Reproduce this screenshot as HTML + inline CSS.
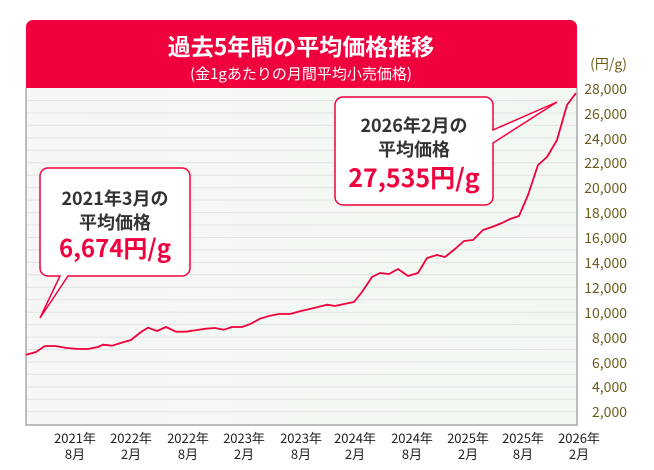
<!DOCTYPE html>
<html><head><meta charset="utf-8"><style>
html,body{margin:0;padding:0;background:#fff;}
svg{display:block;font-family:"Noto Sans CJK JP","Liberation Sans",sans-serif;}
</style></head><body>
<svg width="654" height="470" viewBox="0 0 654 470" xmlns="http://www.w3.org/2000/svg">
<defs><linearGradient id="bg" x1="0" x2="1" y1="0" y2="0"><stop offset="0" stop-color="#f6f7f5"/><stop offset="1" stop-color="#f2f8f1"/></linearGradient></defs>
<rect x="26" y="88" width="551" height="337" fill="url(#bg)"/>
<g stroke="#e2e3e2" stroke-width="1">
<line x1="26" x2="577" y1="100.5" y2="100.5"/><line x1="26" x2="577" y1="113" y2="113"/><line x1="26" x2="577" y1="125.4" y2="125.4"/><line x1="26" x2="577" y1="137.9" y2="137.9"/><line x1="26" x2="577" y1="150.3" y2="150.3"/><line x1="26" x2="577" y1="162.8" y2="162.8"/><line x1="26" x2="577" y1="175.2" y2="175.2"/><line x1="26" x2="577" y1="187.7" y2="187.7"/><line x1="26" x2="577" y1="200.1" y2="200.1"/><line x1="26" x2="577" y1="212.6" y2="212.6"/><line x1="26" x2="577" y1="225" y2="225"/><line x1="26" x2="577" y1="237.5" y2="237.5"/><line x1="26" x2="577" y1="249.9" y2="249.9"/><line x1="26" x2="577" y1="262.4" y2="262.4"/><line x1="26" x2="577" y1="274.8" y2="274.8"/><line x1="26" x2="577" y1="287.3" y2="287.3"/><line x1="26" x2="577" y1="299.7" y2="299.7"/><line x1="26" x2="577" y1="312.2" y2="312.2"/><line x1="26" x2="577" y1="324.6" y2="324.6"/><line x1="26" x2="577" y1="337.1" y2="337.1"/><line x1="26" x2="577" y1="349.5" y2="349.5"/><line x1="26" x2="577" y1="362" y2="362"/><line x1="26" x2="577" y1="374.4" y2="374.4"/><line x1="26" x2="577" y1="386.9" y2="386.9"/><line x1="26" x2="577" y1="399.3" y2="399.3"/><line x1="26" x2="577" y1="411.8" y2="411.8"/>
</g>
<path d="M26,88 V425 H577 V88" fill="none" stroke="#a8a8a8" stroke-width="1.5"/>
<path d="M26,27 a7,7 0 0 1 7,-7 H570 a7,7 0 0 1 7,7 V88 H26 Z" fill="#f0003c"/>
<text x="301" y="55" text-anchor="middle" fill="#fff" font-size="23" font-weight="bold">過去5年間の平均価格推移</text>
<text x="301" y="79" text-anchor="middle" fill="#fff" font-size="15">(金1gあたりの月間平均小売価格)</text>
<g fill="#6b5a1a" font-size="14" text-anchor="end">
<text x="627" y="69">(円/g)</text>
<text x="627" y="94">28,000</text><text x="627" y="119">26,000</text><text x="627" y="144">24,000</text><text x="627" y="168">22,000</text><text x="627" y="193">20,000</text><text x="627" y="218">18,000</text><text x="627" y="243">16,000</text><text x="627" y="268">14,000</text><text x="627" y="293">12,000</text><text x="627" y="318">10,000</text><text x="627" y="343">8,000</text><text x="627" y="368">6,000</text><text x="627" y="392">4,000</text><text x="627" y="417">2,000</text>
</g>
<g fill="#222" font-size="13" text-anchor="middle">
<text x="75" y="443">2021年</text><text x="75" y="459">8月</text>
<text x="131" y="443">2022年</text><text x="131" y="459">2月</text>
<text x="188" y="443">2022年</text><text x="188" y="459">8月</text>
<text x="244" y="443">2023年</text><text x="244" y="459">2月</text>
<text x="301" y="443">2023年</text><text x="301" y="459">8月</text>
<text x="355" y="443">2024年</text><text x="355" y="459">2月</text>
<text x="412" y="443">2024年</text><text x="412" y="459">8月</text>
<text x="468" y="443">2025年</text><text x="468" y="459">2月</text>
<text x="523" y="443">2025年</text><text x="523" y="459">8月</text>
<text x="579" y="443">2026年</text><text x="579" y="459">2月</text>
</g>
<polyline fill="none" stroke="#f0003c" stroke-width="1.8" stroke-linejoin="round" points="26,354.7 36,352 45,346 55,346 67,348 78,349 88,349 98,347 103,344.7 112,345.7 124,342 131,340 141,332 148,327.7 157,331 166,327 176,331.7 186,331.7 197,330 206,328.7 215,328 224,329.7 232,327 242,327 251,323.7 260,318.7 270,315.7 279,314 290,314 301,311 314,308 327,304.7 335,306 344,304 354,302 362,292 372,277 380,273 389,274 398,269 408,276 418,273 427,258 437,255 445,257 455,249 464,241 473,240 483,230 492,227 502,223 510,219 519,216 528,195 538,165 547,157 557,140 567,105 576,93"/>
<path d="M48,168 H182 a8,8 0 0 1 8,8 V268 a8,8 0 0 1 -8,8 H68 L40,318 L60,276 H48 a8,8 0 0 1 -8,-8 V176 a8,8 0 0 1 8,-8 Z" fill="#fff" stroke="#f0003c" stroke-width="1.5"/>
<text x="115" y="205" text-anchor="middle" fill="#333" font-size="18" font-weight="bold">2021年3月の</text>
<text x="115" y="229" text-anchor="middle" fill="#333" font-size="18" font-weight="bold">平均価格</text>
<text x="115" y="257" text-anchor="middle" fill="#f0003c" font-size="24" font-weight="bold">6,674円/g</text>
<path d="M343,97 H485 a8,8 0 0 1 8,8 V130 L557,102 L493,143 V197 a8,8 0 0 1 -8,8 H343 a8,8 0 0 1 -8,-8 V105 a8,8 0 0 1 8,-8 Z" fill="#fff" stroke="#f0003c" stroke-width="1.5"/>
<text x="414" y="132" text-anchor="middle" fill="#333" font-size="18" font-weight="bold">2026年2月の</text>
<text x="414" y="156" text-anchor="middle" fill="#333" font-size="18" font-weight="bold">平均価格</text>
<text x="414" y="187" text-anchor="middle" fill="#f0003c" font-size="25" font-weight="bold">27,535円/g</text>
</svg>
</body></html>
